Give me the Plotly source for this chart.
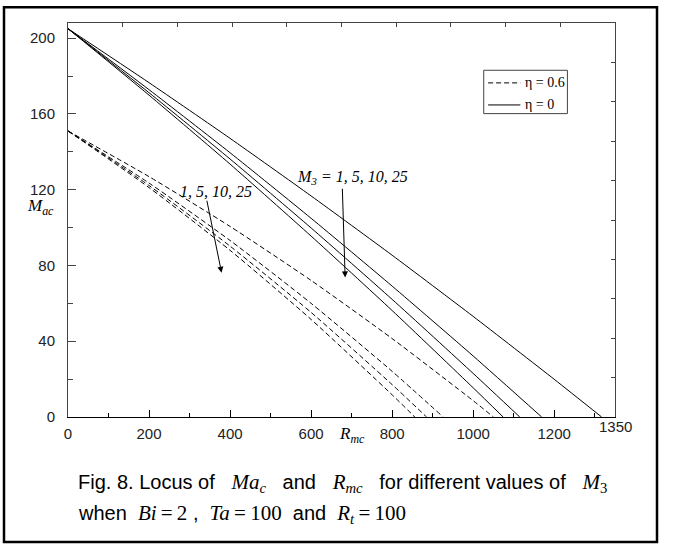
import plotly.graph_objects as go

# M3 values for the four curves of each family
m3_values = [1, 5, 10, 25]

# eta = 0 (solid curves)
rmc_eta0 = [
    [0, 200, 400, 600, 800, 1000, 1200, 1317],
    [0, 200, 400, 600, 800, 1000, 1169],
    [0, 200, 400, 600, 800, 1000, 1115],
    [0, 200, 400, 600, 800, 1000, 1074],
]
mac_eta0 = [
    [205, 176.5, 147.1, 116.7, 85.4, 53.1, 19.9, 0],
    [205, 172.8, 139.5, 104.9, 69.1, 32.2, 0],
    [205, 171.2, 136.2, 99.8, 62.1, 23.0, 0],
    [205, 169.9, 133.5, 95.5, 56.2, 15.4, 0],
]

# eta = 0.6 (dashed curves)
rmc_eta06 = [
    [0, 200, 400, 600, 800, 1000, 1050],
    [0, 200, 400, 600, 800, 926],
    [0, 200, 400, 600, 800, 885],
    [0, 200, 400, 600, 800, 856],
]
mac_eta06 = [
    [151, 126.9, 100.6, 72.1, 41.4, 8.6, 0],
    [151, 123.5, 93.2, 60.0, 24.1, 0],
    [151, 122.2, 90.2, 55.2, 17.1, 0],
    [151, 121.1, 88.0, 51.5, 11.7, 0],
]

x_ticks = [0, 200, 400, 600, 800, 1000, 1200]
y_ticks = [0, 40, 80, 120, 160, 200]
x_max = 1350
y_max = 208

SANS = "Arial, Liberation Sans, sans-serif"
SERIF = "Times New Roman, Liberation Serif, serif"

fig = go.Figure()

for m3, xs, ys in zip(m3_values, rmc_eta06, mac_eta06):
    fig.add_trace(go.Scatter(
        x=xs, y=ys, mode="lines", name=f"eta=0.6, M3={m3}",
        line=dict(color="black", width=1, dash="5px,3px", shape="spline", smoothing=0.6),
        showlegend=False, hoverinfo="skip",
    ))

for m3, xs, ys in zip(m3_values, rmc_eta0, mac_eta0):
    fig.add_trace(go.Scatter(
        x=xs, y=ys, mode="lines", name=f"eta=0, M3={m3}",
        line=dict(color="black", width=1, shape="spline", smoothing=0.6),
        showlegend=False, hoverinfo="skip",
    ))

# empty trace so the top/right tick axes get drawn
fig.add_trace(go.Scatter(x=[None], y=[None], xaxis="x2", yaxis="y2",
                         mode="none", showlegend=False, hoverinfo="skip"))

fig.update_layout(
    width=673, height=549,
    margin=dict(l=68, r=58, t=23, b=132),
    paper_bgcolor="white", plot_bgcolor="white",
    showlegend=False,
    font=dict(family=SANS, size=15, color="black"),
    xaxis=dict(
        range=[0, x_max], tickvals=x_ticks, ticks="inside", ticklen=7,
        tickcolor="black", showgrid=False, zeroline=False,
        showline=True, linecolor="black", linewidth=1,
        tickfont=dict(family=SANS, size=15, color="#222"),
        minor=dict(dtick=100, tick0=0, ticks="inside", ticklen=4, tickcolor="black"),
        ticklabelstandoff=3,
    ),
    yaxis=dict(
        range=[0, y_max], tickvals=y_ticks, ticks="inside", ticklen=8,
        tickcolor="#444", showgrid=False, zeroline=False,
        showline=True, linecolor="#444", linewidth=1,
        tickfont=dict(family=SANS, size=15, color="#222"),
        minor=dict(dtick=20, tick0=0, ticks="inside", ticklen=5, tickcolor="#444"),
        ticklabelstandoff=9,
    ),
    xaxis2=dict(
        overlaying="x", side="top", anchor="y2", range=[0, x_max],
        tick0=0, dtick=x_max / 10, ticks="inside", ticklen=4, tickcolor="#444",
        showticklabels=False, showgrid=False, zeroline=False,
        showline=True, linecolor="#444", linewidth=1,
    ),
    yaxis2=dict(
        overlaying="y", side="right", anchor="x2", range=[0, y_max],
        tick0=0, dtick=y_max / 10, ticks="inside", ticklen=4, tickcolor="#444",
        showticklabels=False, showgrid=False, zeroline=False,
        showline=True, linecolor="#444", linewidth=1,
    ),
)

# outer frame around the whole figure
fig.add_shape(type="rect", xref="paper", yref="paper",
              x0=-0.117, x1=1.0768, y0=-0.317, y1=1.0398,
              line=dict(color="black", width=2.5))

# legend box drawn by hand
fig.add_shape(type="rect", xref="paper", yref="paper",
              x0=0.76, x1=0.913, y0=0.77, y1=0.88,
              line=dict(color="#444", width=1), fillcolor="white")
fig.add_shape(type="line", xref="paper", yref="paper",
              x0=0.768, x1=0.827, y0=0.848, y1=0.848,
              line=dict(color="black", width=1, dash="5px,3px"))
fig.add_shape(type="line", xref="paper", yref="paper",
              x0=0.768, x1=0.827, y0=0.792, y1=0.792,
              line=dict(color="black", width=1))
fig.add_annotation(xref="paper", yref="paper", x=0.832, y=0.848,
                   xanchor="left", yanchor="middle", showarrow=False,
                   text="η = 0.6", font=dict(family=SERIF, size=14))
fig.add_annotation(xref="paper", yref="paper", x=0.832, y=0.792,
                   xanchor="left", yanchor="middle", showarrow=False,
                   text="η = 0", font=dict(family=SERIF, size=14))

# curve labels and arrows
fig.add_annotation(x=702, y=126.2, xanchor="center", yanchor="middle", showarrow=False,
                   text="<i>M</i><sub><i>3</i></sub><i> = 1, 5, 10, 25</i>",
                   font=dict(family=SERIF, size=16))
fig.add_annotation(x=365, y=119, xanchor="center", yanchor="middle", showarrow=False,
                   text="<i>1, 5, 10, 25</i>", font=dict(family=SERIF, size=16))
fig.add_annotation(x=684, y=73.7, ax=677, ay=121.3, axref="x", ayref="y",
                   text="", showarrow=True, arrowhead=2, arrowsize=1.2,
                   arrowwidth=1, arrowcolor="black")
fig.add_annotation(x=379, y=76.2, ax=342, ay=115, axref="x", ayref="y",
                   text="", showarrow=True, arrowhead=2, arrowsize=1.2,
                   arrowwidth=1, arrowcolor="black")

# axis titles
fig.add_annotation(xref="paper", yref="paper", x=-0.051, y=0.533,
                   xanchor="center", yanchor="middle", showarrow=False,
                   text="<i>M</i><sub><i>ac</i></sub>",
                   font=dict(family=SERIF, size=17))
fig.add_annotation(xref="paper", yref="paper", x=0.519, y=-0.046,
                   xanchor="center", yanchor="middle", showarrow=False,
                   text="<i>R</i><sub><i>mc</i></sub>",
                   font=dict(family=SERIF, size=17))
fig.add_annotation(x=x_max, xref="x", yref="paper", y=-0.023,
                   xanchor="center", yanchor="middle", showarrow=False,
                   text=str(x_max), font=dict(family=SANS, size=15, color="#222"))

# caption
math = "font-family:Times New Roman, Liberation Serif, serif;font-size:21px"
eq = "\u2009=\u2009"
line1 = (f"Fig. 8. Locus of   <span style='{math}'><i>Ma</i><sub><i>c</i></sub></span>   and   "
         f"<span style='{math}'><i>R</i><sub><i>mc</i></sub></span>   for different values of   "
         f"<span style='{math}'><i>M</i><sub>3</sub></span>")
line2 = (f"when  <span style='{math}'><i>Bi</i>{eq}2</span> ,  "
         f"<span style='{math}'><i>Ta</i>{eq}100</span>  and  "
         f"<span style='{math}'><i>R</i><sub><i>t</i></sub>{eq}100</span>")
fig.add_annotation(xref="paper", yref="paper", x=0.015, y=-0.168,
                   xanchor="left", yanchor="middle", showarrow=False,
                   text=line1, font=dict(family=SANS, size=20, color="black"))
fig.add_annotation(xref="paper", yref="paper", x=0.015, y=-0.245,
                   xanchor="left", yanchor="middle", showarrow=False,
                   text=line2, font=dict(family=SANS, size=20, color="black"))

fig.write_html("out.html", config={"displayModeBar": False},
               post_script="document.body.style.margin='0';")
